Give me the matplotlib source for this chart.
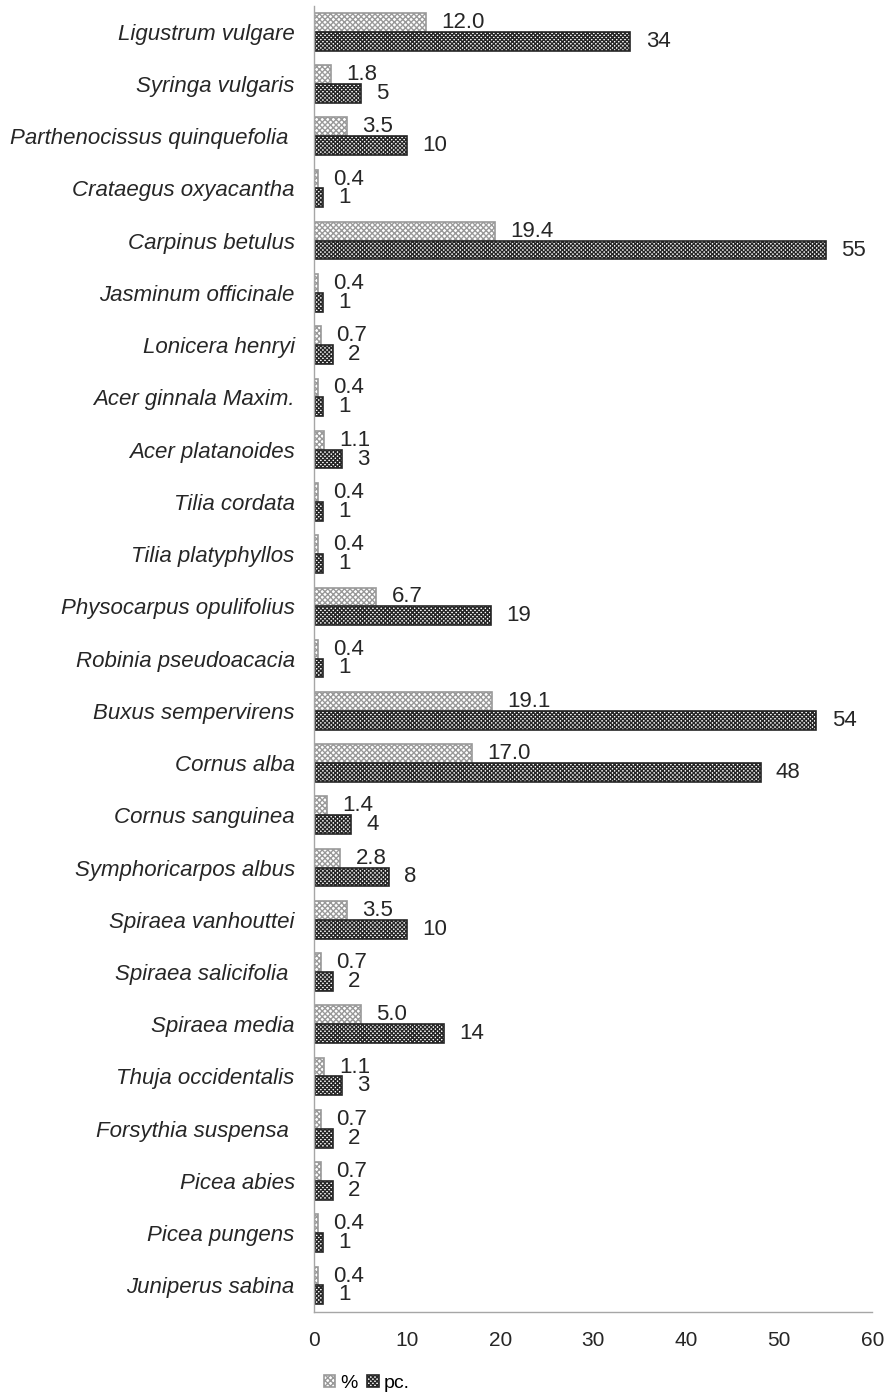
import matplotlib
matplotlib.use('Agg')
import matplotlib.pyplot as plt
import numpy as np

matplotlib.rcParams['font.family'] = ['Liberation Sans', 'DejaVu Sans']
matplotlib.rcParams['font.size'] = 14

species = ['Ligustrum vulgare', 'Syringa vulgaris', 'Parthenocissus quinquefolia ',
           'Crataegus oxyacantha', 'Carpinus betulus', 'Jasminum officinale',
           'Lonicera henryi', 'Acer ginnala Maxim.', 'Acer platanoides',
           'Tilia cordata', 'Tilia platyphyllos', 'Physocarpus opulifolius',
           'Robinia pseudoacacia', 'Buxus sempervirens', 'Cornus alba',
           'Cornus sanguinea', 'Symphoricarpos albus', 'Spiraea vanhouttei',
           'Spiraea salicifolia ', 'Spiraea media', 'Thuja occidentalis',
           'Forsythia suspensa ', 'Picea abies', 'Picea pungens', 'Juniperus sabina']
pc = [34, 5, 10, 1, 55, 1, 2, 1, 3, 1, 1, 19, 1, 54, 48, 4, 8, 10, 2, 14, 3, 2, 2, 1, 1]
pct = [12.0, 1.8, 3.5, 0.4, 19.4, 0.4, 0.7, 0.4, 1.1, 0.4, 0.4, 6.7, 0.4, 19.1, 17.0,
       1.4, 2.8, 3.5, 0.7, 5.0, 1.1, 0.7, 0.7, 0.4, 0.4]

fig = plt.figure(figsize=(8.9, 13.96), dpi=100)
ax = fig.add_axes([0.353, 0.0605, 0.627, 0.9355])

y = np.arange(len(species))
h = 0.36

b1 = ax.barh(y - h / 2, pct, height=h, color='white', edgecolor='#999999',
             hatch='xxxxxx', linewidth=1.2, label='%')
b2 = ax.barh(y + h / 2, pc, height=h, color='white', edgecolor='#262626',
             hatch='xxxxxxxx', linewidth=1.2, label='pc.')

# value labels to the right of each bar
for bar, v in zip(b1, pct):
    ax.annotate(f'{v:.1f}', (bar.get_width(), bar.get_y() + bar.get_height() / 2),
                xytext=(11, 0), textcoords='offset points', va='center', ha='left',
                fontsize=16, color='#262626')
for bar, v in zip(b2, pc):
    ax.annotate(f'{v}', (bar.get_width(), bar.get_y() + bar.get_height() / 2),
                xytext=(11, 0), textcoords='offset points', va='center', ha='left',
                fontsize=16, color='#262626')

ax.set_ylim(len(species) - 0.5, -0.5)
ax.set_xlim(0, 60)
ax.set_xticks(range(0, 61, 10))
ax.set_yticks(y)
ax.set_yticklabels(species, fontstyle='italic')
ax.tick_params(axis='y', length=0, pad=14, labelsize=16, labelcolor='#262626')
ax.tick_params(axis='x', length=0, pad=14, labelsize=15, labelcolor='#262626')

for s in ['top', 'right']:
    ax.spines[s].set_visible(False)
for s in ['left', 'bottom']:
    ax.spines[s].set_color('#a6a6a6')
    ax.spines[s].set_linewidth(1)

fig.legend(handles=[b1, b2], loc='center', bbox_to_anchor=(0.412, 0.009), ncol=2,
           frameon=False, handlelength=0.6, handleheight=0.6, handletextpad=0.25,
           columnspacing=0.5, fontsize=14)

fig.savefig('out.png', dpi=100)
